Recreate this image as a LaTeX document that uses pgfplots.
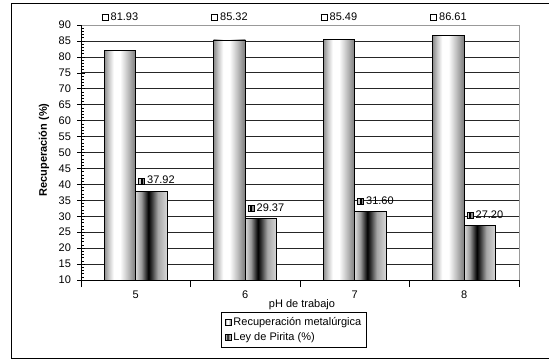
\documentclass[border=0pt]{standalone}
\usepackage{pgfplots}
\pgfplotsset{compat=1.18}
\usepackage{fontspec}
\setmainfont{Liberation Sans}

% cylinder-like shadings for the two series
\pgfdeclarehorizontalshading{lightbar}{100bp}{%
  color(0bp)=(black!45); color(25bp)=(black!45); color(32bp)=(black!22);
  color(40bp)=(white); color(50bp)=(white); color(60bp)=(black!20);
  color(75bp)=(black!52); color(100bp)=(black!52)}
\pgfdeclarehorizontalshading{darkbar}{100bp}{%
  color(0bp)=(black!15); color(25bp)=(black!15); color(34bp)=(black!40);
  color(45bp)=(black); color(50bp)=(black!80); color(60bp)=(black!35);
  color(75bp)=(black!15); color(100bp)=(black!15)}

\newcommand{\lightsym}{{\fboxsep=0pt\fboxrule=0.8pt\fbox{\textcolor{white}{\rule{5.5pt}{5.5pt}}}}}
\newcommand{\darksym}{{\fboxsep=0pt\fboxrule=0.8pt\fbox{\textcolor{black!20}{\rule{1.8pt}{5.5pt}}\rule{1.9pt}{5.5pt}\textcolor{black!45}{\rule{1.8pt}{5.5pt}}}}}
\newcommand{\chartfont}{\fontsize{11}{13}\selectfont}

% one bar per \addplot so that every bar carries its own shading
\pgfplotsset{
  lightser/.style={shade, shading=lightbar, draw=black, line width=0.7pt,
    bar shift=-15.75pt,
    visualization depends on={rawy \as \rawy},
    nodes near coords={\lightsym\hspace{2pt}\pgfmathprintnumber[fixed,fixed zerofill,precision=2]{\pgfplotspointmeta}},
    nodes near coords align={anchor=west},
    every node near coord/.append style={anchor=west, inner sep=0pt, font=\chartfont,
      xshift=-18.75pt, yshift={(92.5-\rawy)*3.1875pt}},
    legend image code/.code={\draw[black, line width=0.6pt, fill=white] (0pt,-3pt) rectangle (6pt,3pt);}},
  darkser/.style={shade, shading=darkbar, draw=black, line width=0.7pt,
    bar shift=15.75pt,
    nodes near coords={\darksym\hspace{2pt}\pgfmathprintnumber[fixed,fixed zerofill,precision=2]{\pgfplotspointmeta}},
    nodes near coords align={anchor=west},
    every node near coord/.append style={anchor=west, inner sep=0pt, font=\chartfont,
      xshift=-13.75pt, yshift=10.5pt},
    legend image code/.code={\shade[shading=darkbar] (0pt,-3pt) rectangle (6pt,3pt);
      \draw[black, line width=0.6pt] (0pt,-3pt) rectangle (6pt,3pt);}},
}

\begin{document}
\begin{tikzpicture}
\useasboundingbox (0,0) rectangle (549pt,360pt);
\fill[white] (0,0) rectangle (549pt,360pt);
\draw[black, line width=0.9pt] (549pt,357pt) -- (11pt,357pt) -- (11pt,2pt) -- (549pt,2pt);
\begin{axis}[
  at={(81pt,80pt)}, anchor=south west,
  scale only axis, width=438pt, height=255pt,
  clip=false,
  xmin=-0.5, xmax=3.5, ymin=10, ymax=90,
  ybar=0pt, bar width=31.5pt,
  xtick={-0.5,0.5,1.5,2.5,3.5}, x tick label as interval,
  xticklabels={5,6,7,8},
  ytick={10,15,...,90}, minor y tick num=4,
  ymajorgrids, major grid style={black!85, line width=0.7pt},
  axis line style={draw=none},
  tick align=center, major tick length=7pt, minor tick length=3pt,
  tick style={black, line width=0.6pt},
  x tick style={yshift=-3.5pt},
  minor y tick style={xshift=1.5pt},
  xtick pos=bottom, ytick pos=left,
  /pgf/number format/assume math mode=true,
  ticklabel style={font=\chartfont},
  xticklabel style={yshift=-4pt},
  yticklabel style={xshift=-3pt},
  xlabel={pH de trabajo},
  ylabel={\bfseries Recuperación (\%)},
  xlabel style={font=\chartfont, at={(axis description cs:0.5046,-0.098)}, anchor=center},
  ylabel style={font=\chartfont, at={(axis description cs:-0.0845,0.51)}, anchor=center},
  legend style={at={(axis description cs:0.4863,-0.1255)}, anchor=north,
    draw=black, line width=0.6pt, font=\chartfont,
    inner xsep=3pt, inner ysep=3pt, row sep=2pt},
  legend cell align=left,
  after end axis/.code={
    \draw[black!40, line width=0.8pt] (rel axis cs:0,1) -- (rel axis cs:1,1) -- (rel axis cs:1,0);
    \draw[black, line width=0.8pt] (rel axis cs:0,1) -- (rel axis cs:0,0) -- (rel axis cs:1,0);
  },
]
% Recuperación metalúrgica
\addplot[lightser] coordinates {(0,81.93)};
\addplot[lightser, forget plot] coordinates {(1,85.32)};
\addplot[lightser, forget plot] coordinates {(2,85.49)};
\addplot[lightser, forget plot] coordinates {(3,86.61)};
% Ley de Pirita
\addplot[darkser] coordinates {(0,37.92)};
\addplot[darkser, forget plot] coordinates {(1,29.37)};
\addplot[darkser, forget plot] coordinates {(2,31.60)};
\addplot[darkser, forget plot] coordinates {(3,27.20)};
\legend{Recuperación metalúrgica\hspace{9pt}, Ley de Pirita (\%)}
\end{axis}
\end{tikzpicture}
\end{document}
